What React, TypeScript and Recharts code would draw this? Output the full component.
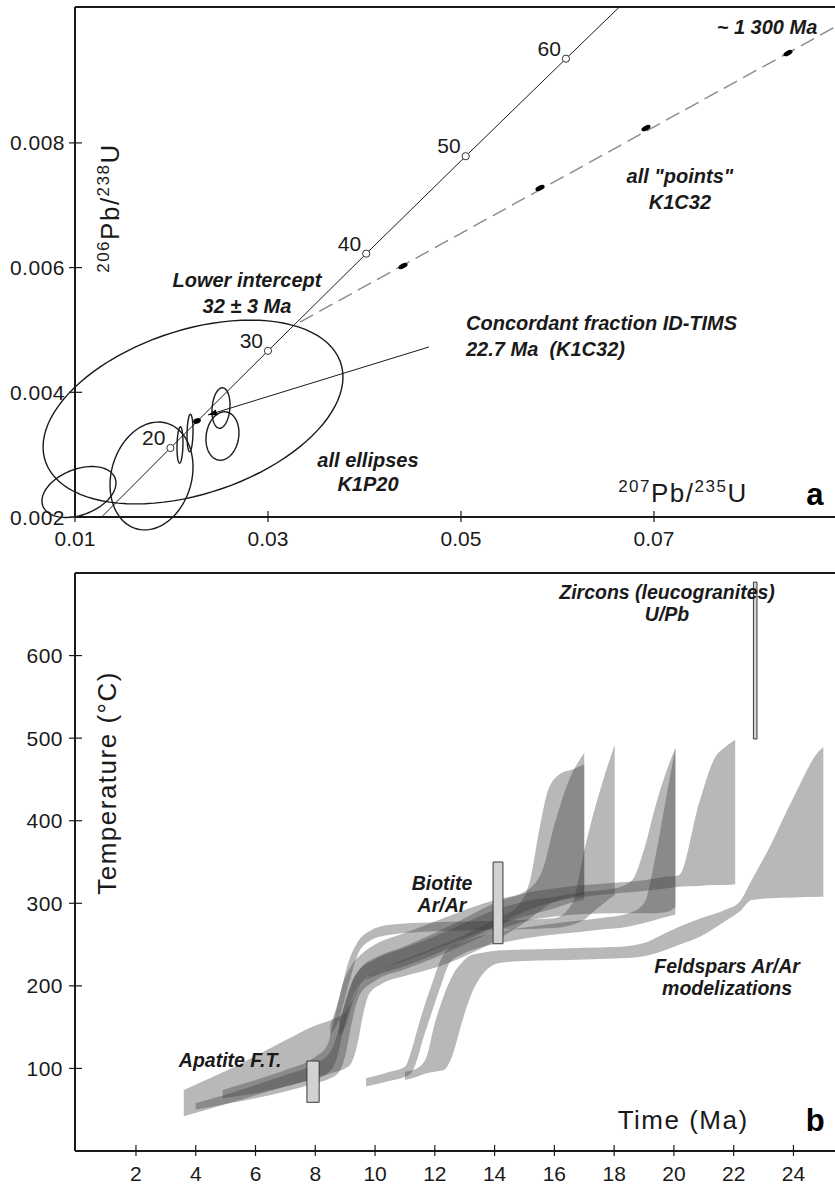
import React from "react";
import {
  ComposedChart,
  Line,
  Scatter,
  Area,
  XAxis,
  YAxis,
  ReferenceLine,
  ReferenceArea,
} from "recharts";

const FONT = '"Liberation Sans", Arial, Helvetica, sans-serif';
const INK = "#1a1a1a";

// ================= Panel a : concordia diagram =================
const concordiaX = [0.01288, 0.01989, 0.03, 0.04018, 0.05049, 0.06088, 0.06642];
const concordiaY = [0.002019, 0.003107, 0.004665, 0.006224, 0.007787, 0.009351, 0.010181];
const markerAges = [20, 30, 40, 50, 60];
const markerX = [0.01989, 0.03, 0.04018, 0.05049, 0.06088];
const markerY = [0.003107, 0.004665, 0.006224, 0.007787, 0.009351];
const discordiaX = [0.03332, 0.08876];
const discordiaY = [0.005127, 0.009859];
const tieX = [0.02378, 0.04668];
const tieY = [0.003636, 0.004727];
const pointsX = [0.04399, 0.05819, 0.06917, 0.08389];
const pointsY = [0.006026, 0.007277, 0.008239, 0.009442];
const fractionX = [0.02264];
const fractionY = [0.00354];
// error ellipses (K1P20): centre, half-axis to right-most point (ax, ay), vertical half-axis (by)
const ellipseCx = [0.02223, 0.01041, 0.01793, 0.02088, 0.02192, 0.02513, 0.02528];
const ellipseCy = [0.003684, 0.002401, 0.002658, 0.003155, 0.003347, 0.003748, 0.003299];
const ellipseAx = [0.01554, 0.003834, 0.0043, 0.00031, 0.00031, 0.000933, 0.00171];
const ellipseAy = [0.000561, 0.000144, 0.000144, 0.00004, 0.00004, 0.00005, 0.00005];
const ellipseBy = [0.001363, 0.000383, 0.000853, 0.000289, 0.000297, 0.000321, 0.000385];
const xTicksA = [0.01, 0.03, 0.05, 0.07];
const yTicksA = [0.002, 0.004, 0.006, 0.008];
const xDomainA = [0.01, 0.08876];
const yDomainA = [0.002, 0.01018];
const notesA = [
  ["~ 1 300 Ma"],
  ['all "points"', "K1C32"],
  ["Lower intercept", "32 \u00B1 3 Ma"],
  ["Concordant fraction ID-TIMS", "22.7 Ma\u00A0\u00A0(K1C32)"],
  ["all ellipses", "K1P20"],
];
const notesAX = [0.08171, 0.07269, 0.02782, 0.05052, 0.04036];
const notesAY = [0.009859, 0.007469, 0.005801, 0.005111, 0.002914];

// ================= Panel b : T-t paths =================
type Row = [number, number, number]; // time (Ma), lower T, upper T
const bandA: Row[] = [
  [3.6, 42, 74], [5.3, 60, 102], [7.0, 78, 134], [8.0, 88, 152], [8.6, 95, 160], [9.0, 100, 168],
  [9.2, 106, 180], [9.4, 128, 195], [9.6, 165, 205], [9.8, 190, 212], [10.2, 202, 220], [11, 212, 232],
  [12, 222, 246], [13, 236, 262], [14, 254, 280], [14.8, 272, 298], [15.2, 282, 330], [15.5, 290, 390],
  [15.8, 298, 438], [16.2, 304, 457], [16.6, 308, 462], [17.0, 310, 468],
];
const bandB: Row[] = [
  [4.0, 50, 58], [5, 57, 68], [6, 64, 80], [7, 72, 92], [8, 82, 106], [8.5, 88, 120], [8.8, 96, 150],
  [9.0, 115, 182], [9.2, 152, 203], [9.5, 190, 220], [10, 206, 232], [11, 220, 246], [12, 234, 260],
  [13, 250, 276], [14, 266, 292], [15, 278, 302], [16, 284, 308], [17, 287, 314], [18, 288, 318],
  [18.6, 288, 328], [19.0, 288, 365], [19.4, 288, 420], [19.8, 290, 465], [20.05, 295, 488],
];
const bandC: Row[] = [
  [4.9, 64, 74], [6, 70, 86], [7, 78, 98], [8, 88, 114], [8.4, 94, 128], [8.7, 110, 170], [8.9, 140, 200],
  [9.2, 182, 224], [9.6, 206, 240], [10, 216, 250], [11, 230, 264], [12, 244, 278], [13, 258, 292],
  [14, 272, 304], [15, 284, 314], [15.6, 290, 340], [16.0, 294, 395], [16.5, 300, 450], [17.0, 305, 482],
];
const bandD: Row[] = [
  [8.5, 140, 152], [8.8, 160, 185], [9.1, 200, 228], [9.4, 236, 252], [9.8, 254, 266], [10.5, 262, 274],
  [12, 266, 277], [14, 268, 279], [16, 270, 282], [16.6, 274, 300], [17.0, 280, 364], [17.25, 288, 401],
  [17.58, 298, 443], [18.02, 310, 492],
];
const bandE: Row[] = [
  [9.7, 78, 88], [10.5, 85, 96], [11.0, 90, 102], [11.2, 94, 120], [11.4, 110, 145], [11.6, 135, 170],
  [11.9, 168, 202], [12.2, 200, 232], [12.5, 228, 246], [12.9, 238, 252], [13.5, 246, 260], [14.5, 254, 268],
  [15.5, 260, 273], [16.5, 264, 278], [17.5, 268, 282], [18.5, 272, 288], [19.0, 276, 300], [19.4, 280, 360],
  [19.8, 284, 440], [20.05, 286, 488],
];
const bandF: Row[] = [
  [11.0, 86, 96], [11.4, 90, 100], [11.7, 94, 112], [12.0, 96, 155], [12.3, 98, 188], [12.6, 117, 213],
  [12.9, 155, 228], [13.2, 188, 237], [13.6, 214, 240], [14.2, 228, 243], [15, 230, 244], [16, 231, 245],
  [17, 232, 246], [18, 233, 247], [19, 236, 252], [19.6, 242, 262], [20.2, 250, 272], [20.9, 260, 282],
  [21.7, 278, 292], [22.2, 290, 302], [22.6, 304, 328], [23.2, 306, 368], [24.0, 307, 428], [24.9, 308, 486],
  [25.0, 308, 489],
];
const bandG: Row[] = [
  [8.8, 140, 160], [9.0, 150, 178], [9.3, 185, 210], [9.6, 205, 225], [10, 212, 234], [11, 224, 248],
  [12, 238, 264], [13, 254, 282], [14, 272, 300], [15, 290, 312], [16, 302, 318], [17, 308, 322],
  [18, 312, 325], [19, 315, 328], [19.7, 318, 332], [20.17, 320, 334], [20.84, 321, 421], [21.38, 322, 477],
  [21.71, 322, 489], [22.05, 323, 498],
];
const bandKeys = ["A", "B", "C", "D", "E", "F", "G"];
const bandRows = [bandA, bandB, bandC, bandD, bandE, bandF, bandG];

const barNames = ["Apatite F.T.", "Biotite Ar/Ar", "Zircons U/Pb"];
const barT0 = [7.72, 13.95, 22.66];
const barT1 = [8.13, 14.28, 22.78];
const barLo = [59, 251, 499];
const barHi = [109, 350, 689];

const xTicksB = [2, 4, 6, 8, 10, 12, 14, 16, 18, 20, 22, 24];
const yTicksB = [100, 200, 300, 400, 500, 600];
const xDomainB = [-0.04, 25.39];
const yDomainB = [0, 700];
const notesB = [
  ["Zircons (leucogranites)", "U/Pb"],
  ["Biotite", "Ar/Ar"],
  ["Apatite F.T."],
  ["Feldspars Ar/Ar", "modelizations"],
];
const notesBT = [19.77, 12.24, 5.15, 21.78];
const notesBTemp = [677, 324.6, 110.2, 224];

// ---------- tables built from the arrays ----------
const line = (xs: number[], ys: number[]) => xs.map((x, i) => ({ x, y: ys[i] }));
const ellipseData = ellipseCx.map((cx, k) =>
  Array.from({ length: 97 }, (_, i) => {
    const a = (i / 96) * 2 * Math.PI;
    return {
      x: cx + ellipseAx[k] * Math.cos(a),
      y: ellipseCy[k] + ellipseAy[k] * Math.cos(a) + ellipseBy[k] * Math.sin(a),
    };
  })
);
const markerData = markerAges.map((age, i) => ({ age, x: markerX[i], y: markerY[i] }));
const notesAData = notesA.map((lines, i) => ({ lines, x: notesAX[i], y: notesAY[i], i }));

const times = Array.from(new Set(bandRows.flat().map((r) => r[0]))).sort((a, b) => a - b);
const tableB = times.map((t) => {
  const row: any = { t };
  bandKeys.forEach((k, i) => {
    const r = bandRows[i].find((q) => q[0] === t);
    row[k] = r ? [r[1], r[2]] : [null, null];
  });
  return row;
});
const notesBData = notesB.map((lines, i) => ({ lines, t: notesBT[i], T: notesBTemp[i], i }));

// ---------- drawing helpers ----------
const anchorA = ["middle", "middle", "middle", "start", "middle"];
const gapA = [26, 26, 26, 26, 24];

const NoteA = (p: any) => {
  const { cx, cy, payload } = p;
  return (
    <g>
      {payload.lines.map((l: string, j: number) => (
        <text key={j} x={cx} y={cy + j * gapA[payload.i]} textAnchor={anchorA[payload.i]}
          dominantBaseline="central" fontFamily={FONT} fontWeight="bold" fontStyle="italic"
          fontSize={20} fill={INK}>{l}</text>
      ))}
    </g>
  );
};
const NoteB = (p: any) => {
  const { cx, cy, payload } = p;
  return (
    <g>
      {payload.lines.map((l: string, j: number) => (
        <text key={j} x={cx} y={cy + j * 22} textAnchor="middle" dominantBaseline="central"
          fontFamily={FONT} fontWeight="bold" fontStyle="italic" fontSize={19.5} fill={INK}>{l}</text>
      ))}
    </g>
  );
};

const IsoLabel = ({ cx, cy, rotate, a, b, c, d }: any) => (
  <g transform={rotate ? `rotate(-90 ${cx} ${cy})` : undefined}>
    <text x={cx} y={cy + 9} textAnchor="middle" fontFamily={FONT} fontSize={26} letterSpacing={1.5} fill={INK}>
      <tspan fontSize={17} dy={-10}>{a}</tspan>
      <tspan dy={10}>{b}</tspan>
      <tspan fontSize={17} dy={-10}>{c}</tspan>
      <tspan dy={10}>{d}</tspan>
    </text>
  </g>
);

const AgeMarker = (p: any) => {
  const { cx, cy, payload } = p;
  return (
    <g>
      <circle cx={cx} cy={cy} r={3.6} fill="#fff" stroke="#333" strokeWidth={1} />
      <text x={cx - 5} y={cy - 3} textAnchor="end" fontFamily={FONT} fontSize={21} fill={INK}>{payload.age}</text>
    </g>
  );
};
const PointEllipse = (p: any) => (
  <ellipse cx={p.cx} cy={p.cy} rx={5} ry={2.4} fill="#000" transform={`rotate(-28 ${p.cx} ${p.cy})`} />
);
const FractionDot = (p: any) => (
  <ellipse cx={p.cx} cy={p.cy} rx={4} ry={2.7} fill="#000" transform={`rotate(-20 ${p.cx} ${p.cy})`} />
);
const tieDot = (p: any) =>
  p.index === 0 ? (
    <polygon key="arrow" points={`${p.cx},${p.cy} ${p.cx + 9},${p.cy - 3} ${p.cx + 9},${p.cy + 3}`}
      transform={`rotate(-17 ${p.cx} ${p.cy})`} fill="#000" />
  ) : (
    <g key={`d${p.index}`} />
  );

const makeXTick = (labelDy: number) => (p: any) => {
  const { x, y, payload } = p;
  return (
    <g>
      <line x1={x} x2={x} y1={y - 6} y2={y + 5} stroke={INK} strokeWidth={1.2} />
      <text x={x} y={y + labelDy} textAnchor="middle" dominantBaseline="central" fontFamily={FONT}
        fontSize={21} fill={INK}>{String(payload.value)}</text>
    </g>
  );
};
const makeYTick = (labelDx: number) => (p: any) => {
  const { x, y, payload } = p;
  return (
    <g>
      <line x1={x - 6} x2={x + 7} y1={y} y2={y} stroke={INK} strokeWidth={1.2} />
      <text x={x - labelDx} y={y} textAnchor="end" dominantBaseline="central" fontFamily={FONT}
        fontSize={21} letterSpacing={0.5} fill={INK}>{String(payload.value)}</text>
    </g>
  );
};

const axisStroke = { stroke: INK, strokeWidth: 2 };

function PanelA() {
  return (
    <ComposedChart width={835} height={560} margin={{ top: 7, right: 0, bottom: 13, left: 0 }}>
      <XAxis type="number" dataKey="x" domain={xDomainA} allowDataOverflow ticks={xTicksA} interval={0}
        height={30} tickSize={0} tickMargin={0} tickLine={false} axisLine={axisStroke} tick={makeXTick(21)} />
      <YAxis type="number" domain={yDomainA} allowDataOverflow ticks={yTicksA} interval={0} width={75}
        tickSize={0} tickMargin={0} tickLine={false} axisLine={axisStroke} tick={makeYTick(10)} />
      <ReferenceLine y={yDomainA[1]} stroke={INK} strokeWidth={2} />
      {ellipseData.map((d, k) => (
        <Line key={`e${k}`} className="noclip" data={d} dataKey="y" type="linear" stroke={INK} strokeWidth={1.4}
          dot={false} activeDot={false} isAnimationActive={false} legendType="none" />
      ))}
      <Line data={line(concordiaX, concordiaY)} dataKey="y" type="linear" stroke={INK} strokeWidth={1}
        dot={false} activeDot={false} isAnimationActive={false} />
      <Line data={line(discordiaX, discordiaY)} dataKey="y" type="linear" stroke="#8a8a8a" strokeWidth={1.4}
        strokeDasharray="15 7" dot={false} activeDot={false} isAnimationActive={false} />
      <Line data={line(tieX, tieY)} dataKey="y" type="linear" stroke={INK} strokeWidth={1}
        dot={tieDot} activeDot={false} isAnimationActive={false} />
      <Scatter data={line(pointsX, pointsY)} dataKey="y" shape={PointEllipse} isAnimationActive={false} />
      <Scatter data={line(fractionX, fractionY)} dataKey="y" shape={FractionDot} isAnimationActive={false} />
      <Scatter data={markerData} dataKey="y" shape={AgeMarker} isAnimationActive={false} />
      <Scatter data={notesAData} dataKey="y" shape={NoteA} isAnimationActive={false} />
      <Scatter data={[{ x: 0.073, y: 0.002385 }]} dataKey="y" isAnimationActive={false}
        shape={(p: any) => <IsoLabel cx={p.cx} cy={p.cy} a="207" b="Pb/" c="235" d="U" />} />
      <Scatter data={[{ x: 0.01363, y: 0.006956 }]} dataKey="y" isAnimationActive={false}
        shape={(p: any) => <IsoLabel cx={p.cx} cy={p.cy} rotate a="206" b="Pb/" c="238" d="U" />} />
      <Scatter data={[{ x: 0.08668, y: 0.002353 }]} dataKey="y" isAnimationActive={false}
        shape={(p: any) => (
          <text x={p.cx} y={p.cy} textAnchor="middle" dominantBaseline="central" fontFamily={FONT}
            fontWeight="bold" fontSize={31} fill="#000">a</text>
        )} />
    </ComposedChart>
  );
}

function PanelB() {
  return (
    <ComposedChart width={835} height={624} data={tableB} margin={{ top: 13, right: 0, bottom: 3, left: 0 }}>
      <XAxis type="number" dataKey="t" domain={xDomainB} allowDataOverflow ticks={xTicksB} interval={0}
        height={30} tickSize={0} tickMargin={0} tickLine={false} axisLine={axisStroke} tick={makeXTick(22)} />
      <YAxis type="number" domain={yDomainB} allowDataOverflow ticks={yTicksB} interval={0} width={75}
        tickSize={0} tickMargin={0} tickLine={false} axisLine={axisStroke} tick={makeYTick(12)} />
      <ReferenceLine y={yDomainB[1]} stroke={INK} strokeWidth={2} />
      {bandKeys.map((k) => (
        <Area key={k} dataKey={k} type="monotoneX" stroke="none" fill="#3a3a3a" fillOpacity={0.36}
          connectNulls dot={false} activeDot={false} isAnimationActive={false} legendType="none" />
      ))}
      {barNames.map((n, i) => (
        <ReferenceArea key={n} x1={barT0[i]} x2={barT1[i]} y1={barLo[i]} y2={barHi[i]}
          fill="#d2d2d2" fillOpacity={1} stroke="#3a3a3a" strokeWidth={1} ifOverflow="visible" />
      ))}
      <Scatter data={notesBData} dataKey="T" shape={NoteB} isAnimationActive={false} />
      <Scatter data={[{ t: 20.31, T: 37.5 }]} dataKey="T" isAnimationActive={false}
        shape={(p: any) => (
          <text x={p.cx} y={p.cy} textAnchor="middle" dominantBaseline="central" fontFamily={FONT}
            fontSize={26} letterSpacing={1.5} fill={INK}>Time (Ma)</text>
        )} />
      <Scatter data={[{ t: 24.73, T: 37.5 }]} dataKey="T" isAnimationActive={false}
        shape={(p: any) => (
          <text x={p.cx} y={p.cy} textAnchor="middle" dominantBaseline="central" fontFamily={FONT}
            fontWeight="bold" fontSize={31} fill="#000">b</text>
        )} />
      <Scatter data={[{ t: 1.03, T: 445.7 }]} dataKey="T" isAnimationActive={false}
        shape={(p: any) => (
          <g transform={`rotate(-90 ${p.cx} ${p.cy})`}>
            <text x={p.cx} y={p.cy} textAnchor="middle" dominantBaseline="central" fontFamily={FONT}
              fontSize={26} letterSpacing={1.5} fill={INK}>Temperature (°C)</text>
          </g>
        )} />
    </ComposedChart>
  );
}

export default function App() {
  return (
    <div style={{ position: "absolute", left: 0, top: 0, width: 835, height: 1184, background: "#fff" }}>
      <style>{`.noclip, .noclip * { clip-path: none !important; }`}</style>
      <div style={{ position: "absolute", left: 0, top: 0 }}>
        <PanelA />
      </div>
      <div style={{ position: "absolute", left: 0, top: 560 }}>
        <PanelB />
      </div>
    </div>
  );
}
